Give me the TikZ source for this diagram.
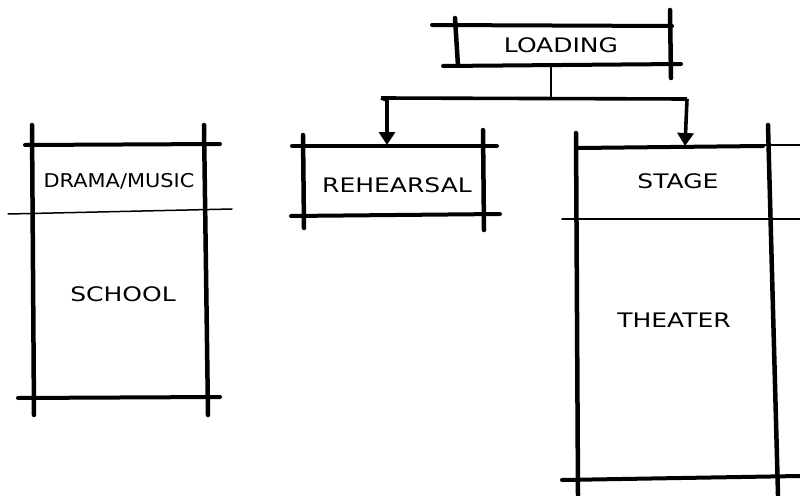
\documentclass[tikz,border=0pt]{standalone}
\usepackage{fontspec}
\setmainfont{DejaVu Sans}
\newfontfamily\handfont[FakeStretch=1.25]{DejaVu Sans}
\newfontfamily\handnarrow[FakeStretch=1.1]{DejaVu Sans}
\usetikzlibrary{arrows.meta}
\begin{document}
\begin{tikzpicture}[x=1pt,y=-1pt,
  heavy/.style={line width=4pt,line cap=round},
  light/.style={line width=1.5pt,line cap=round},
  wall/.style={line width=4.5pt,line cap=round},
  lbl/.style={font=\handfont\fontsize{20}{22}\selectfont,inner sep=1pt},
  conn/.style={line width=3.6pt},
  arr/.style={line width=3.6pt,-{Triangle[width=16pt,length=13pt]}}]
\useasboundingbox (0,0) rectangle (800,495);
% LOADING box
\draw[heavy] (432,25) -- (672,26);
\draw[heavy] (443,66) -- (681,64);
\draw[wall] (455,18) -- (458,66);
\draw[wall] (670,10) -- (671,78);
\node[lbl] (loading) at (561,45) {LOADING};
\coordinate (lbot) at (551,65);
\coordinate (jn) at (551,98);
\coordinate (jl) at (381,98);
\coordinate (jr) at (687,99);
% REHEARSAL box
\draw[heavy] (292,146) -- (497,146);
\draw[heavy] (291,216) -- (500,214);
\draw[wall] (303,135) -- (304,228);
\draw[wall] (483,130) -- (484,230);
\node[lbl] (rehearsal) at (397,185) {REHEARSAL};
\coordinate (rtop) at (387,145);
% DRAMA/MUSIC / SCHOOL
\draw[wall] (32,125) -- (34,415);
\draw[wall] (204,125) -- (208,415);
\draw[heavy] (25,145) -- (220,144);
\draw[light] (8,214) -- (232,209);
\draw[heavy] (18,398) -- (220,397);
\node[lbl,font=\handnarrow\fontsize{19}{21}\selectfont] (drama) at (119,181) {DRAMA/MUSIC};
\node[lbl] (school) at (123,294) {SCHOOL};
% STAGE / THEATER
\draw[wall] (576,133) -- (578,495);
\draw[wall] (768,125) -- (778,495);
\draw[heavy] (578,148) -- (763,146);
\draw[light] (763,145) -- (800,145);
\draw[light] (562,219) -- (800,219);
\draw[heavy] (562,480) -- (800,476);
\node[lbl] (stage) at (678,181) {STAGE};
\node[lbl] (theater) at (674,320) {THEATER};
\coordinate (stop) at (685,146);
% connectors
\draw[line width=1.8pt] (lbot) -- (jn);
\draw[conn,line join=round] (jl) -- (jr);
\draw[arr] (jl) -- (387,100) -- (rtop);
\draw[arr] (jr) -- (stop);
\end{tikzpicture}
\end{document}
